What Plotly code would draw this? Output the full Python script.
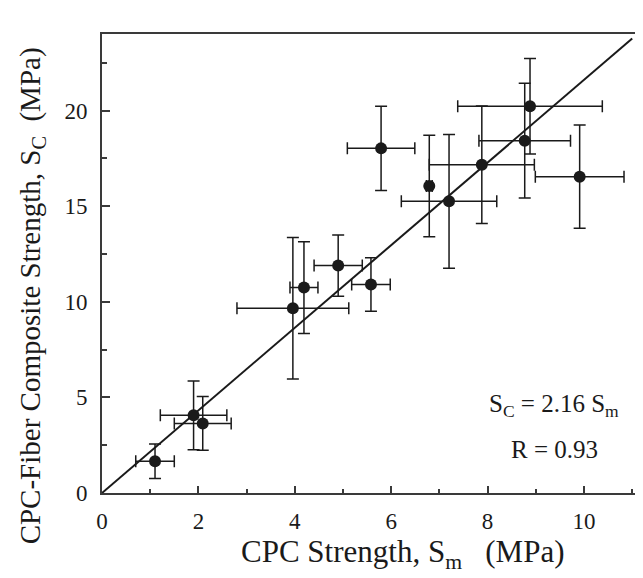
"""CPC-fiber composite strength vs CPC strength, with error bars and linear fit."""
import plotly.graph_objects as go

# ===== DATA =====
cpc_strength = [1.10, 1.90, 2.09, 3.96, 4.19, 4.90, 5.58, 5.79, 6.79, 7.20, 7.88, 8.77, 8.88, 9.91]
composite_strength = [1.66, 4.06, 3.64, 9.66, 10.74, 11.89, 10.90, 18.02, 16.05, 15.25, 17.16, 18.42, 20.22, 16.54]
cpc_err = [0.40, 0.69, 0.59, 1.16, 0.29, 0.50, 0.40, 0.70, 0.06, 0.99, 1.09, 0.95, 1.50, 0.92]
composite_err = [0.90, 1.80, 1.40, 3.70, 2.40, 1.60, 1.40, 2.20, 2.65, 3.50, 3.07, 3.00, 2.50, 2.70]

slope = 2.16
fit_x = [0, 11]
fit_y = [slope * v for v in fit_x]

# ===== STYLE =====
FONT = 'Liberation Serif, Times New Roman, serif'
INK = '#1a1a1a'
AXIS = '#3a3a3a'

fig = go.Figure()

fig.add_trace(go.Scatter(
    x=fit_x, y=fit_y, mode='lines',
    line=dict(color=INK, width=2), showlegend=False, hoverinfo='skip'))

fig.add_trace(go.Scatter(
    x=cpc_strength, y=composite_strength, mode='markers',
    marker=dict(color=INK, size=12),
    error_x=dict(type='data', array=cpc_err, color=INK, thickness=1.5, width=6),
    error_y=dict(type='data', array=composite_err, color=INK, thickness=1.5, width=6),
    showlegend=False))

fig.add_annotation(x=9.38, y=4.6, text='S<sub>C</sub> = 2.16 S<sub>m</sub>', showarrow=False,
                   font=dict(family=FONT, size=25, color=INK))
fig.add_annotation(x=9.38, y=2.3, text='R = 0.93', showarrow=False,
                   font=dict(family=FONT, size=25, color=INK))

# axis titles as annotations so they can sit off-centre like the original
fig.add_annotation(xref='paper', yref='paper', x=0.548, y=-0.133, xanchor='center', yanchor='middle',
                   text='CPC Strength, S<sub>m</sub>&nbsp;&nbsp; (MPa)', showarrow=False,
                   font=dict(family=FONT, size=31, color=INK))
fig.add_annotation(xref='paper', yref='paper', x=-0.128, y=0.43, xanchor='center', yanchor='middle',
                   text='CPC-Fiber Composite Strength, S<sub>C</sub>&nbsp; (MPa)', showarrow=False,
                   textangle=-90, font=dict(family=FONT, size=29, color=INK))

fig.update_layout(
    width=643, height=578,
    paper_bgcolor='white', plot_bgcolor='white',
    margin=dict(l=94, r=0, t=26, b=93),
    font=dict(family=FONT, color=INK),
)

fig.update_xaxes(
    range=[0, 11.39], tickmode='linear', tick0=0, dtick=2,
    ticks='inside', ticklen=7, tickwidth=1.5, tickcolor=AXIS,
    minor=dict(dtick=1, ticks='inside', ticklen=4, tickwidth=1.5, tickcolor=AXIS),
    showline=True, linewidth=2, linecolor=AXIS, mirror=True,
    showgrid=False, zeroline=False,
    tickfont=dict(family=FONT, size=23, color=INK), ticklabelstandoff=6,
)

fig.update_yaxes(
    range=[0, 24], tickmode='linear', tick0=0, dtick=5,
    ticks='inside', ticklen=8, tickwidth=1.5, tickcolor=AXIS,
    minor=dict(dtick=2.5, ticks='inside', ticklen=5, tickwidth=1.5, tickcolor=AXIS),
    showline=True, linewidth=2, linecolor=AXIS,
    showgrid=False, zeroline=False,
    tickfont=dict(family=FONT, size=23, color=INK), ticklabelstandoff=8,
)

fig.write_html('out.html')
